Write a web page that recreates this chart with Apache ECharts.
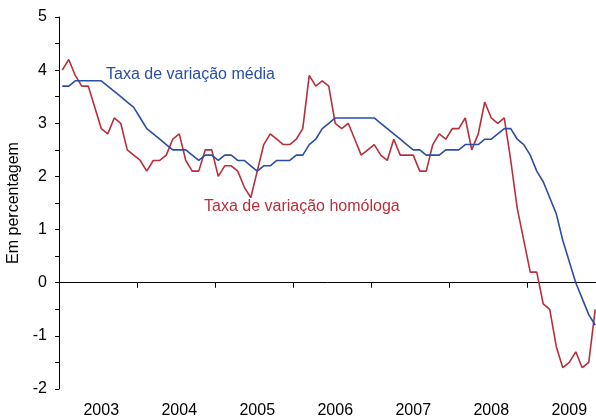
<!DOCTYPE html>
<html>
<head>
<meta charset="utf-8">
<script src="https://cdn.jsdelivr.net/npm/echarts@6/dist/echarts.min.js"></script>
<style>
  html, body { margin: 0; padding: 0; background: #fff; }
  #container { width: 596px; height: 420px; }
</style>
</head>
<body>
<div id="container"></div>
<script>
// anos e meses (o eixo vai de jan/2003 a dez/2009)
var years = ['2003', '2004', '2005', '2006', '2007', '2008', '2009'];
var months = [];
years.forEach(function (y) {
    for (var m = 1; m <= 12; m++) {
        months.push(y + '-' + (m < 10 ? '0' + m : m));
    }
});

// Taxa de variação homóloga (jan/2003 - nov/2009)
var homologa = [
    4.0, 4.2, 3.9, 3.7, 3.7, 3.3, 2.9, 2.8, 3.1, 3.0, 2.5, 2.4,
    2.3, 2.1, 2.3, 2.3, 2.4, 2.7, 2.8, 2.3, 2.1, 2.1, 2.5, 2.5,
    2.0, 2.2, 2.2, 2.1, 1.8, 1.6, 2.1, 2.6, 2.8, 2.7, 2.6, 2.6,
    2.7, 2.9, 3.9, 3.7, 3.8, 3.7, 3.0, 2.9, 3.0, 2.7, 2.4, 2.5,
    2.6, 2.4, 2.3, 2.7, 2.4, 2.4, 2.4, 2.1, 2.1, 2.6, 2.8, 2.7,
    2.9, 2.9, 3.1, 2.5, 2.8, 3.4, 3.1, 3.0, 3.1, 2.3, 1.4, 0.8,
    0.2, 0.2, -0.4, -0.5, -1.2, -1.6, -1.5, -1.3, -1.6, -1.5, -0.5
];

// Taxa de variação média (jan/2003 - nov/2009)
var media = [
    3.7, 3.7, 3.8, 3.8, 3.8, 3.8, 3.8, 3.7, 3.6, 3.5, 3.4, 3.3,
    3.1, 2.9, 2.8, 2.7, 2.6, 2.5, 2.5, 2.5, 2.4, 2.3, 2.4, 2.4,
    2.3, 2.4, 2.4, 2.3, 2.3, 2.2, 2.1, 2.2, 2.2, 2.3, 2.3, 2.3,
    2.4, 2.4, 2.6, 2.7, 2.9, 3.0, 3.1, 3.1, 3.1, 3.1, 3.1, 3.1,
    3.1, 3.0, 2.9, 2.8, 2.7, 2.6, 2.5, 2.5, 2.4, 2.4, 2.4, 2.5,
    2.5, 2.5, 2.6, 2.6, 2.6, 2.7, 2.7, 2.8, 2.9, 2.9, 2.7, 2.6,
    2.4, 2.1, 1.9, 1.6, 1.3, 0.8, 0.4, 0.0, -0.3, -0.6, -0.8
];

var FONT = '"Liberation Sans", Arial, sans-serif';
var BLUE = '#2a4ea6';
var RED = '#b82f3b';

var myChart = echarts.init(document.getElementById('container'));
var option = {
    animation: false,
    backgroundColor: '#fff',
    grid: {
        left: 59,
        right: -9,   // dez/2009 fica fora da imagem
        top: 17,
        bottom: 31,
        outerBoundsMode: 'none'
    },
    xAxis: [
        {
            // eixo de baixo: só os anos
            type: 'category',
            data: months,
            position: 'bottom',
            boundaryGap: true,
            axisLine: { show: false, onZero: false },
            axisTick: { show: false },
            axisLabel: {
                interval: function (idx) { return idx % 12 === 6; },
                formatter: function (v) { return v.slice(0, 4); },
                color: '#000',
                fontFamily: FONT,
                fontSize: 16,
                margin: 14
            },
            splitLine: { show: false }
        },
        {
            // linha do zero com as marcas dos anos
            type: 'category',
            data: months,
            position: 'top',
            boundaryGap: true,
            axisLine: { show: true, onZero: true, lineStyle: { color: '#000', width: 1 } },
            axisTick: {
                show: true,
                inside: true,
                length: 5,
                interval: function (idx) { return idx % 12 === 0; },
                lineStyle: { color: '#000' }
            },
            axisLabel: { show: false },
            splitLine: { show: false }
        }
    ],
    yAxis: {
        type: 'value',
        min: -2,
        max: 5,
        interval: 1,
        name: 'Em percentagem',
        nameLocation: 'middle',
        nameGap: 33,
        nameTextStyle: { color: '#000', fontFamily: FONT, fontSize: 16 },
        axisLine: { show: true, lineStyle: { color: '#000', width: 1 } },
        axisTick: { show: true, length: 4, lineStyle: { color: '#000' } },
        minorTick: { show: true, splitNumber: 2, length: 4, lineStyle: { color: '#000' } },
        axisLabel: { color: '#000', fontFamily: FONT, fontSize: 16, margin: 12 },
        splitLine: { show: false },
        minorSplitLine: { show: false }
    },
    series: [
        {
            name: 'Taxa de variação homóloga',
            type: 'line',
            xAxisIndex: 0,
            data: homologa,
            showSymbol: false,
            symbol: 'none',
            lineStyle: { color: RED, width: 1.6 }
        },
        {
            name: 'Taxa de variação média',
            type: 'line',
            xAxisIndex: 0,
            data: media,
            showSymbol: false,
            symbol: 'none',
            lineStyle: { color: BLUE, width: 1.6 }
        }
    ],
    graphic: [
        {
            type: 'text',
            x: 106,
            y: 75,
            style: {
                text: 'Taxa de variação média',
                fill: BLUE,
                font: '16px ' + FONT,
                verticalAlign: 'middle'
            }
        },
        {
            type: 'text',
            x: 204,
            y: 207,
            style: {
                text: 'Taxa de variação homóloga',
                fill: RED,
                font: '16px ' + FONT,
                verticalAlign: 'middle'
            }
        }
    ]
};
myChart.setOption(option);
</script>
</body>
</html>
